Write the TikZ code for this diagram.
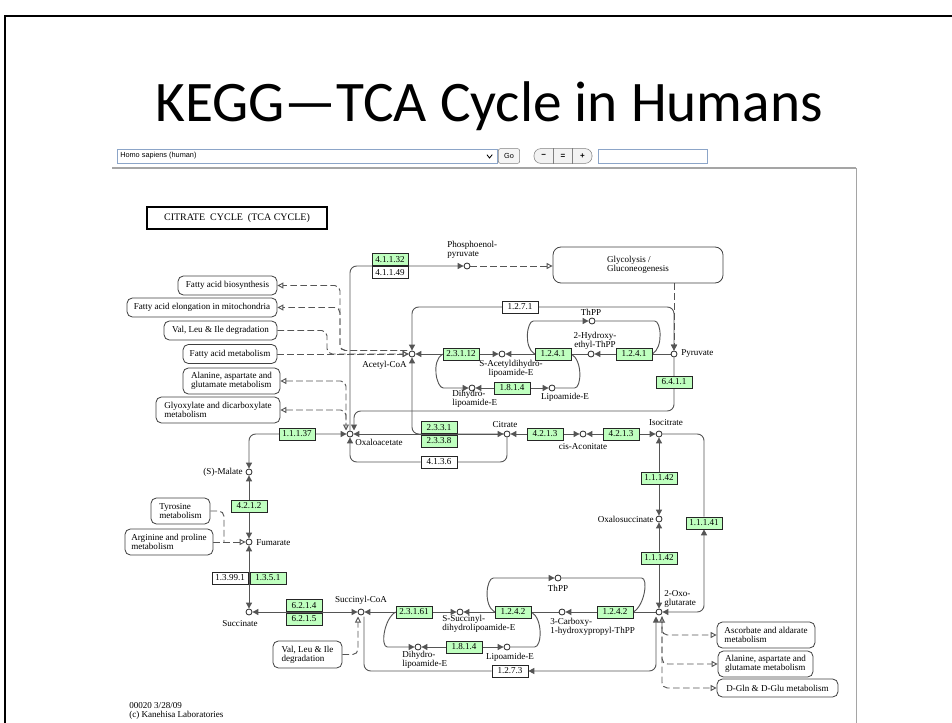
\documentclass[tikz,border=0pt]{standalone}
\usepackage{fontspec}
\setmainfont{Liberation Serif}
\newfontfamily\titlefont{Carlito}
\newfontfamily\uifont{Liberation Sans}
\usetikzlibrary{arrows.meta, positioning, calc, backgrounds}

\definecolor{ecgreen}{RGB}{191,255,191}
\definecolor{linegray}{RGB}{85,85,85}
\definecolor{uiblue}{RGB}{140,165,200}
\definecolor{panelgray}{RGB}{165,165,165}

\newcommand{\mapfont}{\fontsize{6.8}{7}\selectfont}
\newcommand{\uisize}{\uifont\fontsize{5.5}{6}\selectfont}

\tikzset{
  ftri/.tip={Triangle[length=4.5pt,width=4.5pt]},
  otri/.tip={Triangle[open,length=4.5pt,width=4.5pt]},
  ec/.style={draw=black!85, fill=ecgreen, line width=0.5pt, minimum width=27pt, minimum height=9pt, inner sep=0pt, font=\mapfont},
  ecw/.style={ec, fill=white},
  cpd/.style={circle, draw=black!85, fill=white, line width=0.6pt, minimum size=4.5pt, inner sep=0pt},
  lbl/.style={font=\mapfont, inner sep=0pt, align=left},
  mapbox/.style={draw=black!75, fill=white, rounded corners=4pt, line width=0.6pt, inner sep=0pt, font=\mapfont, align=left},
  rxn/.style={draw=linegray, line width=0.7pt, rounded corners=5pt},
  rel/.style={draw=linegray, line width=0.7pt, dash pattern=on 5pt off 2.5pt, rounded corners=4pt},
}

\begin{document}
\begin{tikzpicture}[x=0.75pt, y=-0.75pt]
\useasboundingbox (0,0) rectangle (952,723);

% Slide frame and title
\draw[line width=1.5pt] (5,723) -- (5,16) -- (952,16);
\node[font=\titlefont\fontsize{43}{50}\selectfont, anchor=base] (title) at (489,122) {KEGG—TCA Cycle in Humans};

% Browser toolbar
\node[draw=uiblue, minimum width=285pt, minimum height=10.5pt, inner sep=0pt, anchor=west] (orgsel) at (117,156) {};
\node[font=\uisize, anchor=west, inner sep=0pt] (orgname) at (120,156) {Homo sapiens (human)};
\draw[line width=0.6pt] ([xshift=-6pt]orgsel.east) ++(-2pt,1pt) -- ++(2pt,-2.5pt) -- ++(2pt,2.5pt);
\node[draw=black!50, fill=gray!8, rounded corners=1.5pt, minimum width=16pt, minimum height=11pt, inner sep=0pt, font=\uisize] (gobtn) at (509,156) {Go};
\node[draw=black!50, fill=gray!10, rounded corners=5pt, minimum width=43.5pt, minimum height=11pt, inner sep=0pt] (zoombar) at (563,156) {};
\draw[black!50] ([xshift=-7.25pt]zoombar.north) -- ([xshift=-7.25pt]zoombar.south);
\draw[black!50] ([xshift=7.25pt]zoombar.north) -- ([xshift=7.25pt]zoombar.south);
\node[font=\uifont\bfseries\fontsize{6}{6}\selectfont] (zoomout) at ([xshift=-14.5pt]zoombar.center) {−};
\node[font=\uifont\bfseries\fontsize{6}{6}\selectfont] (zoomfit) at (zoombar.center) {=};
\node[font=\uifont\bfseries\fontsize{6}{6}\selectfont] (zoomin) at ([xshift=14.5pt]zoombar.center) {+};
\node[draw=uiblue, minimum width=81.75pt, minimum height=10.5pt, inner sep=0pt, anchor=west] (search) at (598,156) {};

% Map panel
\draw[panelgray, line width=1.5pt] (112,168) -- (856,168);
\draw[panelgray, line width=0.6pt] (856,168) -- (856,723);
\node[draw, line width=1.2pt, minimum width=135pt, minimum height=16.5pt, inner sep=0pt, font=\fontsize{7.5}{8}\selectfont] (maptitle) at (237,218) {CITRATE\ \ CYCLE\ \ (TCA CYCLE)};

% Linked pathway maps
\node[mapbox, minimum width=74.25pt, minimum height=14.25pt] (fab) at (227.5,285.5) {Fatty acid biosynthesis};
\node[mapbox, minimum width=112.5pt, minimum height=14.25pt] (fae) at (202,307.5) {Fatty acid elongation in mitochondria};
\node[mapbox, minimum width=84.75pt, minimum height=14.25pt] (vli1) at (220.5,330.5) {Val, Leu \& Ile degradation};
\node[mapbox, minimum width=70.5pt, minimum height=14.25pt] (fam) at (230,354) {Fatty acid metabolism};
\node[mapbox, minimum width=72.75pt, minimum height=19.5pt] (ala1) at (231.5,381) {Alanine, aspartate and\\glutamate metabolism};
\node[mapbox, minimum width=93pt, minimum height=19.5pt] (gly) at (218,410) {Glyoxylate and dicarboxylate\\metabolism};
\node[mapbox, minimum width=127.5pt, minimum height=27pt, rounded corners=6pt] (glyc) at (638,265) {Glycolysis /\\Gluconeogenesis};
\node[mapbox, minimum width=44.25pt, minimum height=19.5pt] (tyr) at (180.5,511) {Tyrosine\\metabolism};
\node[mapbox, minimum width=66pt, minimum height=19.5pt] (arg) at (169,542) {Arginine and proline\\metabolism};
\node[mapbox, minimum width=51.75pt, minimum height=20.25pt] (vli2) at (307.5,654.5) {Val, Leu \& Ile\\degradation};
\node[mapbox, minimum width=73.5pt, minimum height=19.5pt] (asc) at (766,635) {Ascorbate and aldarate\\metabolism};
\node[mapbox, minimum width=71.25pt, minimum height=19.5pt] (ala2) at (765.5,664) {Alanine, aspartate and\\glutamate metabolism};
\node[mapbox, minimum width=90.75pt, minimum height=13.5pt] (dgln) at (777.5,688) {D-Gln \& D-Glu metabolism};

% Compounds
\foreach \n/\x/\y in {accoa/412/354, pep/467/266, pyr/674/354, hetpp/591/354, thpp1/592/321,
    sacdl/502/354, dhl1/472/388, lip1/552/388, oaa/350/434, cit/507/434, cisacon/583/434,
    icit/659/434, oxsuc/659/519, oxog/659/612, cthpp/562/612, thpp2/558/578, ssdl/460/612,
    dhl2/418/647, lip2/507/647, succoa/361/612, succ/249/612, fum/249/542, mal/249/472}
  \node[cpd] (\n) at (\x,\y) {};

% Compound labels
\node[lbl, anchor=east] (accoa-l) at (407,365) {Acetyl-CoA};
\node[lbl, anchor=west] (pep-l) at (447,250) {Phosphoenol-\\pyruvate};
\node[lbl, anchor=west] (pyr-l) at (681,354) {Pyruvate};
\node[lbl, align=center] (hetpp-l) at (595,341) {2-Hydroxy-\\ethyl-ThPP};
\node[lbl] (thpp1-l) at (591,312) {ThPP};
\node[lbl, align=center] (sacdl-l) at (511,369) {S-Acetyldihydro-\\lipoamide-E};
\node[lbl, anchor=west] (dhl1-l) at (452,399) {Dihydro-\\lipoamide-E};
\node[lbl] (lip1-l) at (565,397) {Lipoamide-E};
\node[lbl, anchor=west] (oaa-l) at (355,442) {Oxaloacetate};
\node[lbl] (cit-l) at (505,425) {Citrate};
\node[lbl] (cisacon-l) at (583,447) {cis-Aconitate};
\node[lbl] (icit-l) at (666,423) {Isocitrate};
\node[lbl, anchor=east] (oxsuc-l) at (654,519) {Oxalosuccinate};
\node[lbl, anchor=west] (oxog-l) at (664,599) {2-Oxo-\\glutarate};
\node[lbl, anchor=west] (cthpp-l) at (550,627) {3-Carboxy-\\1-hydroxypropyl-ThPP};
\node[lbl] (thpp2-l) at (558,588) {ThPP};
\node[lbl, anchor=west] (ssdl-l) at (442,624) {S-Succinyl-\\dihydrolipoamide-E};
\node[lbl, anchor=west] (dhl2-l) at (402,660) {Dihydro-\\lipoamide-E};
\node[lbl] (lip2-l) at (510,657) {Lipoamide-E};
\node[lbl] (succoa-l) at (361,600) {Succinyl-CoA};
\node[lbl] (succ-l) at (240,624) {Succinate};
\node[lbl, anchor=west] (fum-l) at (256,543) {Fumarate};
\node[lbl, anchor=east] (mal-l) at (243,472) {(S)-Malate};

% Enzymes
\foreach \n/\x/\y/\t in {e23112/461/354/2.3.1.12, e1241a/553/354/1.2.4.1, e1241b/634/354/1.2.4.1,
    e1814a/512/388/1.8.1.4, e6411/674/382/6.4.1.1, e4213a/545/434/4.2.1.3, e4213b/621/434/4.2.1.3,
    e11142a/659/478/1.1.1.42, e11142b/659/558/1.1.1.42, e11141/704/523/1.1.1.41,
    e11137/297/434/1.1.1.37, e4212/249/506/4.2.1.2, e23161/414/612/2.3.1.61,
    e1242a/513/612/1.2.4.2, e1242b/615/612/1.2.4.2, e1814b/464/647/1.8.1.4}
  \node[ec] (\n) at (\x,\y) {\t};
\foreach \n/\x/\y/\t in {e1271/520/307/1.2.7.1, e4136/439/462/4.1.3.6, e1273/510/671/1.2.7.3}
  \node[ecw] (\n) at (\x,\y) {\t};
\node[ec, anchor=south] (e41132) at (390,265.5) {4.1.1.32};
\node[ecw, anchor=north] (e41149) at (390,266.5) {4.1.1.49};
\node[ec, anchor=south] (e2331) at (439,433.5) {2.3.3.1};
\node[ec, anchor=north] (e2338) at (439,434.5) {2.3.3.8};
\node[ecw, anchor=east] (e13991) at (248.5,578) {1.3.99.1};
\node[ec, anchor=west] (e1351) at (249.5,578) {1.3.5.1};
\node[ec, anchor=south] (e6214) at (304,611.5) {6.2.1.4};
\node[ec, anchor=north] (e6215) at (304,612.5) {6.2.1.5};

\node[lbl, anchor=west] (mapid) at (129,711) {00020 3/28/09\\(c) Kanehisa Laboratories};

\begin{pgfonlayer}{background}
% Pyruvate branch
\coordinate (pyrtop) at (674,307);
\coordinate (pyrbot) at (674,411);
\coordinate (oaaL) at (346,430.5);
\coordinate (oaaR) at (354,430.5);
\draw[rxn, ftri-ftri] (pyr) -- (pyrtop) -| (accoa);
\draw[rxn, -ftri] (pyr) -- (pyrbot) -| (oaaR);
\draw[rxn, -ftri] (oaa) |- (pep);
\draw[rel, -otri] (pep) -- (pep -| glyc.west);
\draw[rel, -otri] (glyc.south -| pyr) -- (pyr);

% Pyruvate dehydrogenase complex
\draw[rxn, ftri-ftri] (accoa) -- (sacdl);
\draw[rxn, ftri-] (sacdl) -- (hetpp);
\draw[rxn, ftri-] (hetpp) -- (pyr);
\draw[rxn, -ftri] (e1241a.west) to[out=150, in=180] (540,321) -- (thpp1);
\draw[rxn] (thpp1) -- (648,321) to[out=0, in=30] (e1241b.east);
\draw[rxn] (lip1) -- (568,388) to[out=0, in=-30] (e1241a.east);
\draw[rxn, -ftri] (e23112.west) to[out=210, in=180] (450,388) -- (dhl1);
\draw[rxn, ftri-ftri] (dhl1) -- (lip1);

% Citrate to 2-oxoglutarate
\draw[rxn, ftri-ftri] (oaa) -- (cit);
\draw[rxn, ftri-] (accoa) |- (cit);
\draw[rxn, -ftri] (cit) |- (e4136) -| (oaa);
\draw[rxn, ftri-ftri] (cit) -- (cisacon);
\draw[rxn, ftri-ftri] (cisacon) -- (icit);
\draw[rxn, ftri-ftri] (icit) -- (oxsuc);
\draw[rxn, ftri-ftri] (oxsuc) -- (oxog);
\draw[rxn, ftri-ftri] (icit) -| (e11141) |- (oxog);

% 2-Oxoglutarate dehydrogenase complex
\draw[rxn, ftri-ftri] (succoa) -- (ssdl);
\draw[rxn, ftri-] (ssdl) -- (cthpp);
\draw[rxn, ftri-] (cthpp) -- (oxog);
\draw[rxn, -ftri] (e1242a.west) to[out=150, in=180] (500,578) -- (thpp2);
\draw[rxn] (thpp2) -- (635,578) to[out=0, in=30] (e1242b.east);
\draw[rxn] (lip2) -- (528,647) to[out=0, in=-30] (e1242a.east);
\draw[rxn, -ftri] (e23161.west) to[out=210, in=180] (394,647) -- (dhl2);
\draw[rxn, ftri-ftri] (dhl2) -- (lip2);
\coordinate (succoaL) at (358,616.5);
\coordinate (succoaR) at (364,616.5);
\coordinate (oxogL) at (656,616.5);
\coordinate (oxogB) at (662,616.5);
\draw[rxn, ftri-ftri] (succoaR) |- (e1273) -| (oxogL);

% Succinate to oxaloacetate
\draw[rxn, ftri-ftri] (succoa) -- (succ);
\draw[rxn, ftri-ftri] (fum) -- (succ);
\draw[rxn, ftri-ftri] (mal) -- (fum);
\draw[rxn, ftri-ftri] (oaa) -| (mal);

% Links to other maps
\coordinate (acin) at (407,350.5);
\coordinate (fajoin) at (340,350.5);
\coordinate (vlij) at (327,354);
\coordinate (tyrj) at (224,542);
\draw[rel, -otri] (acin) -| (fab.east -| fajoin) -- (fab.east);
\draw[rel, -otri] (acin) -| (fae.east -| fajoin) -- (fae.east);
\draw[rel, -otri] (vli1.east) -| (vlij) -- (accoa);
\draw[rel, -otri] (fam) -- (accoa);
\draw[rel, otri-otri] (ala1.east) -| (oaaL);
\draw[rel, otri-] (gly.east) -| (oaaL);
\draw[rel, -otri] (arg) -- (fum);
\draw[rel] (tyr.east) -| (tyrj);
\draw[rel, -otri] (vli2.east) -| (succoaL);
\draw[rel, otri-otri] (oxogB) |- (asc);
\draw[rel, -otri] (oxogB) |- (ala2);
\draw[rel, -otri] (oxogB) |- (dgln);
\end{pgfonlayer}
\end{tikzpicture}
\end{document}
